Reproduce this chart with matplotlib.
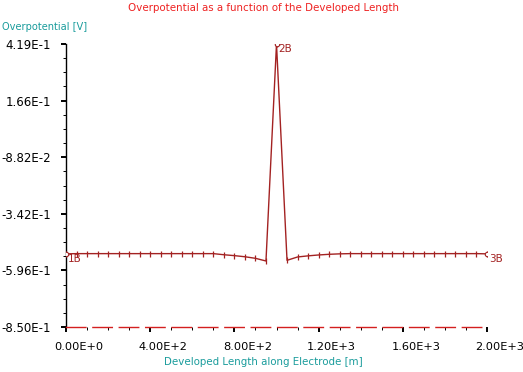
import matplotlib
matplotlib.use("Agg")
import matplotlib.pyplot as plt
from matplotlib.ticker import AutoMinorLocator, FixedLocator, NullFormatter
import numpy as np

# developed length along the electrode [m] and overpotential [V]
length = [0, 50, 100, 150, 200, 250, 300, 350, 400, 450, 500, 550, 600, 650,
          700, 750, 800, 850, 900, 950, 1000, 1050, 1100, 1150, 1200, 1250,
          1300, 1350, 1400, 1450, 1500, 1550, 1600, 1650, 1700, 1750, 1800,
          1850, 1900, 1950, 2000]
overpot = [-0.522, -0.521, -0.521, -0.521, -0.521, -0.521, -0.521, -0.521,
           -0.521, -0.521, -0.521, -0.521, -0.521, -0.521, -0.521, -0.526,
           -0.530, -0.535, -0.542, -0.554, 0.419, -0.551, -0.536, -0.531,
           -0.527, -0.524, -0.522, -0.521, -0.521, -0.521, -0.521, -0.521,
           -0.521, -0.521, -0.521, -0.521, -0.521, -0.521, -0.521, -0.521,
           -0.522]

node_names = ["1B", "2B", "3B"]
node_idx = [0, 20, 40]

yticks_lbl = ["-8.50E-1", "-5.96E-1", "-3.42E-1", "-8.82E-2", "1.66E-1", "4.19E-1"]
xticks_val = [0, 400, 800, 1200, 1600, 2000]
xticks_lbl = ["0.00E+0", "4.00E+2", "8.00E+2", "1.20E+3", "1.60E+3", "2.00E+3"]

ymin, ymax = -0.85, 0.419
line_col = "#a32222"
teal = "#1a9c9c"

fig = plt.figure(figsize=(5.23, 3.72), dpi=100)
ax = fig.add_axes([66 / 523, 1 - 327 / 372, 421 / 523, 283 / 372])

ax.plot(length, overpot, color=line_col, lw=1.0, marker="|", ms=5,
        mew=0.9, zorder=3)
nx = [length[i] for i in node_idx]
ny = [overpot[i] for i in node_idx]
ax.plot(nx, ny, ls="none", marker="o", ms=3.2, mfc="white", mec=line_col,
        mew=0.8, zorder=4)
for name, xv, yv in zip(node_names, nx, ny):
    ax.annotate(name, (xv, yv), xytext=(2, -5), textcoords="offset pixels",
                color=line_col, fontsize=7.5, ha="left", va="center")

ax.set_xlim(0, 2000)
ax.set_ylim(ymin, ymax)

ax.yaxis.set_major_locator(FixedLocator(np.linspace(ymin, ymax, 6)))
ax.set_yticklabels(yticks_lbl)
ax.yaxis.set_minor_locator(AutoMinorLocator(4))
ax.xaxis.set_major_locator(FixedLocator(xticks_val))
ax.xaxis.set_major_formatter(NullFormatter())
ax.xaxis.set_minor_locator(AutoMinorLocator(4))

# x tick labels sit a bit to the right of their tick in the original
for xv, lbl in zip(xticks_val, xticks_lbl):
    ax.annotate(lbl, (xv, 0), xycoords=("data", "axes fraction"),
                xytext=(13, -20), textcoords="offset pixels",
                ha="center", va="center", fontsize=8.2, annotation_clip=False)

ax.tick_params(axis="both", which="major", direction="out", length=3.6,
               width=1.4, labelsize=8.5, colors="black")
ax.tick_params(axis="both", which="minor", direction="out", length=2.0,
               width=0.7)
ax.tick_params(axis="y", which="major", pad=7)

for s in ["top", "right"]:
    ax.spines[s].set_visible(False)
ax.spines["left"].set_color("black")
ax.spines["left"].set_linewidth(1.0)
ax.spines["bottom"].set_color("#d42020")
ax.spines["bottom"].set_linewidth(1.0)
ax.spines["bottom"].set_linestyle((0, (14, 5)))

ax.set_xlabel("Developed Length along Electrode [m]", color=teal, fontsize=7.4)
ax.xaxis.set_label_coords((263 - 66) / 421, (327 - 362) / 283)
ax.xaxis.label.set_va("center")
ax.set_ylabel("Overpotential [V]", color=teal, fontsize=7.1, rotation=0,
              ha="left", va="center")
ax.yaxis.set_label_coords((2 - 66) / 421, (327 - 27) / 283)

ax.text((263 - 66) / 421, (327 - 8) / 283,
        "Overpotential as a function of the Developed Length",
        transform=ax.transAxes, color="#ee2222", fontsize=7.4,
        ha="center", va="center")

fig.savefig("out.png", dpi=100, facecolor="white")
